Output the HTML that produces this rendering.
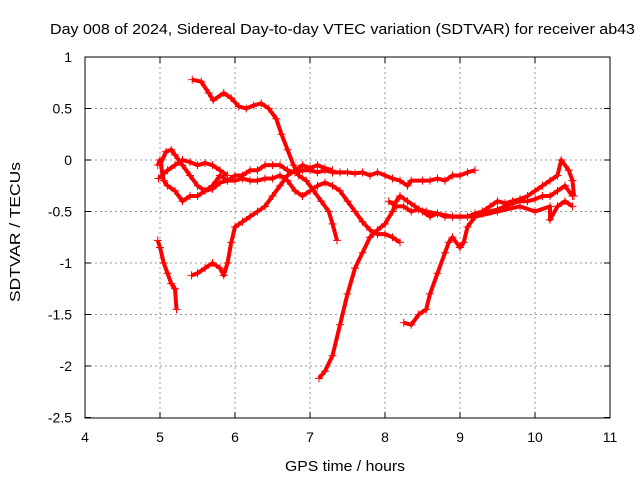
<!DOCTYPE html>
<html><head><meta charset="utf-8"><style>
body{margin:0;background:#fff}
svg text{font-family:"Liberation Sans",sans-serif;font-size:14px;fill:#000}
</style></head><body>
<svg id="chart" width="640" height="480" xmlns="http://www.w3.org/2000/svg">
<rect width="640" height="480" fill="#fff"/>
<g id="grid"></g>
<g id="series"></g>
<rect x="85" y="57" width="525" height="361" fill="none" stroke="#000" stroke-width="1"/>
<g id="ticks"></g>
<text x="50" y="34" style="font-size:15px" textLength="585" lengthAdjust="spacingAndGlyphs">Day 008 of 2024, Sidereal Day-to-day VTEC variation (SDTVAR) for receiver ab43</text>
<text x="285" y="471" style="font-size:15px" textLength="120" lengthAdjust="spacingAndGlyphs">GPS time / hours</text>
<text transform="translate(20,302) rotate(-90)" style="font-size:15px" textLength="140" lengthAdjust="spacingAndGlyphs">SDTVAR / TECUs</text>
</svg>
<script>
const xTicks=[4,5,6,7,8,9,10,11];
const yTicks=[1,0.5,0,-0.5,-1,-1.5,-2,-2.5];
const trackA=[[5.43,0.78],[5.55,0.76],[5.65,0.65],[5.71,0.58],[5.85,0.65],[5.95,0.6],[6.05,0.52],[6.15,0.5],[6.25,0.53],[6.35,0.55],[6.45,0.5],[6.55,0.4],[6.62,0.25],[6.7,0.1],[6.78,-0.05],[6.85,-0.15],[6.95,-0.2],[7.05,-0.3],[7.15,-0.4],[7.25,-0.5],[7.3,-0.62],[7.36,-0.78]];
const trackB=[[4.97,-0.05],[5.0,0.0],[5.05,-0.2],[5.1,-0.25],[5.2,-0.3],[5.3,-0.4],[5.4,-0.35],[5.5,-0.35],[5.6,-0.3],[5.7,-0.25],[5.8,-0.15],[5.9,-0.2],[6.0,-0.15],[6.1,-0.15],[6.2,-0.1],[6.3,-0.1],[6.4,-0.05],[6.5,-0.05],[6.6,-0.05],[6.7,-0.1],[6.8,-0.12],[6.9,-0.1],[7.0,-0.1],[7.1,-0.12],[7.2,-0.1],[7.3,-0.12],[7.4,-0.12],[7.5,-0.12],[7.6,-0.13],[7.7,-0.12],[7.8,-0.15],[7.9,-0.12],[8.0,-0.15],[8.1,-0.18],[8.2,-0.2],[8.3,-0.25],[8.35,-0.2],[8.5,-0.2],[8.6,-0.2],[8.7,-0.18],[8.8,-0.2],[8.9,-0.15],[9.0,-0.15],[9.1,-0.12],[9.2,-0.1]];
const trackC=[[5.0,-0.05],[5.08,0.08],[5.15,0.1],[5.2,0.05],[5.3,-0.05],[5.4,-0.15],[5.5,-0.25],[5.6,-0.3],[5.7,-0.28],[5.8,-0.22],[5.9,-0.2],[6.0,-0.2],[6.1,-0.18],[6.2,-0.2],[6.3,-0.2],[6.4,-0.18],[6.5,-0.18],[6.6,-0.15],[6.7,-0.2],[6.8,-0.3],[6.9,-0.35],[7.0,-0.3],[7.1,-0.25],[7.2,-0.22],[7.3,-0.25],[7.4,-0.3],[7.5,-0.4],[7.6,-0.5],[7.7,-0.6],[7.8,-0.68],[7.9,-0.72],[8.0,-0.72],[8.1,-0.75],[8.2,-0.8]];
const trackC2=[[4.98,-0.18],[5.1,-0.1],[5.2,-0.05],[5.3,0.0],[5.4,-0.02],[5.5,-0.05],[5.6,-0.03],[5.7,-0.05],[5.8,-0.1],[5.9,-0.15]];
const trackD=[[5.42,-1.12],[5.5,-1.1],[5.6,-1.05],[5.7,-1.0],[5.8,-1.05],[5.85,-1.12],[5.9,-1.0],[5.95,-0.8],[6.0,-0.65],[6.1,-0.6],[6.2,-0.55],[6.3,-0.5],[6.4,-0.45],[6.5,-0.35],[6.6,-0.25],[6.7,-0.15],[6.8,-0.1],[6.9,-0.05],[7.0,-0.08],[7.1,-0.05],[7.2,-0.08],[7.3,-0.1]];
const trackE=[[4.97,-0.78],[5.0,-0.85],[5.05,-1.0],[5.1,-1.1],[5.15,-1.2],[5.2,-1.25],[5.22,-1.45]];
const trackF=[[7.12,-2.12],[7.2,-2.05],[7.3,-1.9],[7.4,-1.6],[7.5,-1.3],[7.6,-1.05],[7.7,-0.9],[7.8,-0.75],[7.9,-0.68],[8.0,-0.62],[8.1,-0.5],[8.15,-0.4],[8.2,-0.35],[8.3,-0.4],[8.4,-0.45],[8.5,-0.5],[8.6,-0.55],[8.7,-0.52],[8.8,-0.55],[8.9,-0.55],[9.0,-0.55],[9.1,-0.55],[9.2,-0.52],[9.3,-0.5],[9.4,-0.45],[9.5,-0.4],[9.6,-0.42],[9.7,-0.4],[9.8,-0.38],[9.9,-0.35],[10.0,-0.3],[10.1,-0.25],[10.2,-0.2],[10.3,-0.15],[10.35,0.0],[10.45,-0.1],[10.5,-0.2],[10.52,-0.35]];
const trackG=[[8.25,-1.58],[8.35,-1.6],[8.45,-1.5],[8.55,-1.45],[8.6,-1.3],[8.7,-1.1],[8.8,-0.9],[8.85,-0.8],[8.9,-0.75],[9.0,-0.85],[9.05,-0.8],[9.1,-0.65],[9.2,-0.55],[9.3,-0.52],[9.4,-0.5],[9.5,-0.48],[9.6,-0.45],[9.7,-0.42],[9.8,-0.4],[9.9,-0.4],[10.0,-0.38],[10.1,-0.35],[10.2,-0.35],[10.3,-0.3],[10.4,-0.25],[10.5,-0.35]];
const trackH=[[8.05,-0.4],[8.15,-0.45],[8.25,-0.45],[8.35,-0.5],[8.45,-0.48],[8.55,-0.5],[8.7,-0.52],[8.9,-0.55],[9.2,-0.55],[9.5,-0.5],[9.8,-0.45],[10.0,-0.5],[10.2,-0.45],[10.2,-0.58],[10.3,-0.45],[10.4,-0.4],[10.5,-0.45]];
const tracks=[trackA,trackB,trackC,trackC2,trackD,trackE,trackF,trackG,trackH];
const NS="http://www.w3.org/2000/svg";
const X=v=>85+(v-4)*75;
const Y=v=>160-v*103;
const grid=document.getElementById('grid'),ticks=document.getElementById('ticks'),ser=document.getElementById('series');
function mk(tag,attrs,parent){const e=document.createElementNS(NS,tag);for(const k in attrs)e.setAttribute(k,attrs[k]);parent.appendChild(e);return e;}
xTicks.forEach(t=>{
  const x=X(t);
  if(t>4&&t<11){const g=mk('line',{x1:x,x2:x,y1:57,y2:418,stroke:'#999','stroke-dasharray':'2,3'},grid);
  
  }
  const tk=mk('path',{d:`M${x},418v-6M${x},57v6`,stroke:'#000'},ticks);
  
  
  const tx=mk('text',{x:x,y:442,'text-anchor':'middle'},ticks);tx.textContent=t;
  
  
});
yTicks.forEach(t=>{
  const y=Y(t);
  if(t<1&&t>-2.5){const g=mk('line',{x1:85,x2:610,y1:y,y2:y,stroke:'#999','stroke-dasharray':'2,3'},grid);
  
  }
  const tk=mk('path',{d:`M85,${y}h6M610,${y}h-6`,stroke:'#000'},ticks);
  
  
  const tx=mk('text',{x:72,y:y+5,'text-anchor':'end'},ticks);tx.textContent=t;
  
  
});
tracks.forEach((tr,i)=>{
  const pl=mk('polyline',{points:tr.map(p=>X(p[0])+','+Y(p[1])).join(' '),fill:'none',stroke:'#f00','stroke-width':4,'stroke-linejoin':'round'},ser);
  
  
  let d='';tr.forEach(p=>{const x=X(p[0]),y=Y(p[1]);d+=`M${x-4},${y}h8M${x},${y-4}v8`;});
  const pm=mk('path',{d:d,stroke:'#f00','stroke-width':1},ser);
  
  
});
</script>
</body></html>
